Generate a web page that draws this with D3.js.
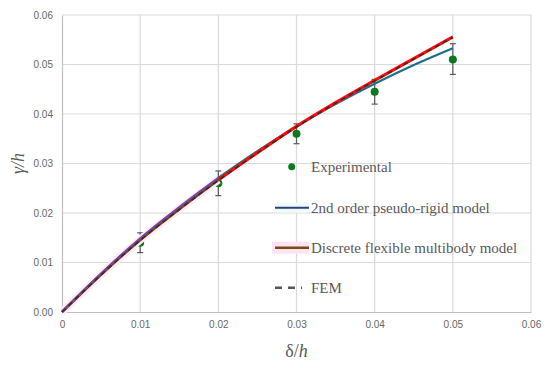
<!DOCTYPE html>
<html>
<head>
<meta charset="utf-8">
<script src="https://cdn.jsdelivr.net/npm/d3@7"></script>
<style>
  body { margin: 0; background: #fff; }
  svg { display: block; }
</style>
</head>
<body>
<div id="chart"></div>
<script>
// Ticks
var xTicks = [0, 0.01, 0.02, 0.03, 0.04, 0.05, 0.06],
    yTicks = [0, 0.01, 0.02, 0.03, 0.04, 0.05, 0.06];

// Experimental points with error bars
var expX  = [0.01, 0.02, 0.03, 0.04, 0.05],
    expY  = [0.014, 0.026, 0.036, 0.0445, 0.051],
    expLo = [0.012, 0.0235, 0.034, 0.042, 0.048],
    expHi = [0.016, 0.0285, 0.038, 0.047, 0.0542];

// Model curves
var curveX      = [0, 0.005, 0.01, 0.015, 0.02, 0.025, 0.03, 0.035, 0.04, 0.045, 0.05];
var pseudoRigid = [0, 0.0078, 0.0149, 0.0212, 0.0271, 0.0325, 0.0375, 0.0420, 0.0461, 0.0499, 0.0533];
var discrete    = [0, 0.0076, 0.0146, 0.0208, 0.0267, 0.0322, 0.0375, 0.0423, 0.0468, 0.0512, 0.0556];
var fem         = [0, 0.0075, 0.0145, 0.0207, 0.0266, 0.0321, 0.0374, 0.0422, 0.0467, 0.0511, 0.0555];

var legendLabels = ["Experimental", "2nd order pseudo-rigid model", "Discrete flexible multibody model", "FEM"];

var width = 550, height = 368;
var margin = {left: 62, top: 15, right: 19, bottom: 56};
var pw = width - margin.left - margin.right,
    ph = height - margin.top - margin.bottom;

var svg = d3.select("#chart").append("svg")
    .attr("width", width).attr("height", height);

var x = d3.scaleLinear().domain([0, 0.06]).range([margin.left, margin.left + pw]),
    y = d3.scaleLinear().domain([0, 0.06]).range([margin.top + ph, margin.top]);

// grid
var grid = svg.append("g");
grid.selectAll(".vg").data(xTicks.slice(1)).enter().append("line")
    .attr("x1", d => x(d)).attr("x2", d => x(d))
    .attr("y1", y(0)).attr("y2", y(0.06))
    .attr("stroke", "#d9d9d9").attr("stroke-width", 1.2);
grid.selectAll(".hg").data(yTicks.slice(1)).enter().append("line")
    .attr("x1", x(0)).attr("x2", x(0.06))
    .attr("y1", d => y(d)).attr("y2", d => y(d))
    .attr("stroke", "#d9d9d9").attr("stroke-width", 1.2);

// axes
var xAxis = svg.append("g").attr("transform", "translate(0," + y(0) + ")")
    .call(d3.axisBottom(x).tickValues(xTicks).tickSize(0).tickPadding(9)
      .tickFormat(d => d === 0 ? "0" : d3.format(".2f")(d)));
var yAxis = svg.append("g").attr("transform", "translate(" + x(0) + ",0)")
    .call(d3.axisLeft(y).tickValues(yTicks).tickSize(0).tickPadding(9)
      .tickFormat(d3.format(".2f")));
[xAxis, yAxis].forEach(function(a) {
  a.select(".domain").attr("stroke", "#bfbfbf").attr("stroke-width", 1.2);
  a.selectAll("text").attr("fill", "#666").style("font-family", "Liberation Sans, Arial, sans-serif").style("font-size", "10px");
});

// axis titles
svg.append("text").attr("x", x(0.03)).attr("y", 357)
    .attr("text-anchor", "middle")
    .style("font-family", "Liberation Serif, serif").style("font-size", "18px").attr("fill", "#595959")
    .html('δ/<tspan font-style="italic">h</tspan>');
svg.append("text")
    .attr("transform", "translate(24," + y(0.03) + ") rotate(-90)")
    .attr("text-anchor", "middle")
    .style("font-family", "Liberation Serif, serif").style("font-size", "18px").attr("fill", "#595959")
    .attr("font-style", "italic")
    .text("γ/h");

// experimental points
var pts = expX.map((d, i) => ({x: d, y: expY[i], lo: expLo[i], hi: expHi[i]}));
var eb = svg.append("g");
eb.selectAll(".bar").data(pts).enter().append("line")
    .attr("x1", d => x(d.x)).attr("x2", d => x(d.x))
    .attr("y1", d => y(d.lo)).attr("y2", d => y(d.hi))
    .attr("stroke", "#595959").attr("stroke-width", 1.2);
eb.selectAll(".capl").data(pts).enter().append("line")
    .attr("x1", d => x(d.x) - 3).attr("x2", d => x(d.x) + 3)
    .attr("y1", d => y(d.lo)).attr("y2", d => y(d.lo))
    .attr("stroke", "#595959").attr("stroke-width", 1.2);
eb.selectAll(".caph").data(pts).enter().append("line")
    .attr("x1", d => x(d.x) - 3).attr("x2", d => x(d.x) + 3)
    .attr("y1", d => y(d.hi)).attr("y2", d => y(d.hi))
    .attr("stroke", "#595959").attr("stroke-width", 1.2);
eb.selectAll("circle").data(pts).enter().append("circle")
    .attr("cx", d => x(d.x)).attr("cy", d => y(d.y)).attr("r", 4)
    .attr("fill", "#0b7a1f");

// curves
function series(vals) { return curveX.map((d, i) => ({x: d, y: vals[i]})); }
var line = d3.line().curve(d3.curveMonotoneX).x(d => x(d.x)).y(d => y(d.y));
var lower = d => d.x <= 0.02, upper = d => d.x >= 0.02;

var curves = svg.append("g").attr("fill", "none");
curves.append("path").datum(series(discrete).filter(lower)).attr("d", line)
    .attr("stroke", "#fdeaf6").attr("stroke-width", 8);
curves.append("path").datum(series(discrete).filter(lower)).attr("d", line)
    .attr("stroke", "#6e4a1c").attr("stroke-width", 3);
curves.append("path").datum(series(pseudoRigid).filter(lower)).attr("d", line)
    .attr("stroke", "#7a45a6").attr("stroke-width", 2);
curves.append("path").datum(series(pseudoRigid).filter(upper)).attr("d", line)
    .attr("stroke", "#17718a").attr("stroke-width", 2.2);
curves.append("path").datum(series(discrete).filter(upper)).attr("d", line)
    .attr("stroke", "#ff0a0a").attr("stroke-width", 3.2);
curves.append("path").datum(series(fem)).attr("d", line)
    .attr("stroke", "#3a2a2a").attr("stroke-width", 1.6).attr("stroke-dasharray", "5,4");

// legend
var lg = svg.append("g");
var lgX = 275, lgY = [166.7, 207.7, 247.7, 287.7];
lg.selectAll("text").data(legendLabels).enter().append("text")
    .attr("x", 311).attr("y", (d, i) => lgY[i]).attr("dy", "0.35em")
    .style("font-family", "Liberation Serif, 'Times New Roman', serif").style("font-size", "15px")
    .attr("fill", "#595959").text(d => d);
lg.append("circle").attr("cx", 291.7).attr("cy", lgY[0]).attr("r", 3.5).attr("fill", "#0b7a1f");
lg.append("rect").attr("x", lgX).attr("y", lgY[1] - 5).attr("width", 34).attr("height", 10).attr("fill", "#eefbfb");
lg.append("line").attr("x1", lgX).attr("x2", lgX + 34).attr("y1", lgY[1]).attr("y2", lgY[1])
    .attr("stroke", "#2e3f86").attr("stroke-width", 2);
lg.append("rect").attr("x", lgX - 3).attr("y", lgY[2] - 6).attr("width", 37).attr("height", 12).attr("fill", "#fde3f3");
lg.append("line").attr("x1", lgX).attr("x2", lgX + 34).attr("y1", lgY[2]).attr("y2", lgY[2])
    .attr("stroke", "#7a4a12").attr("stroke-width", 2.5);
lg.append("line").attr("x1", lgX).attr("x2", lgX + 27).attr("y1", lgY[3]).attr("y2", lgY[3])
    .attr("stroke", "#555").attr("stroke-width", 2.5).attr("stroke-dasharray", "7,6");
</script>
</body>
</html>
